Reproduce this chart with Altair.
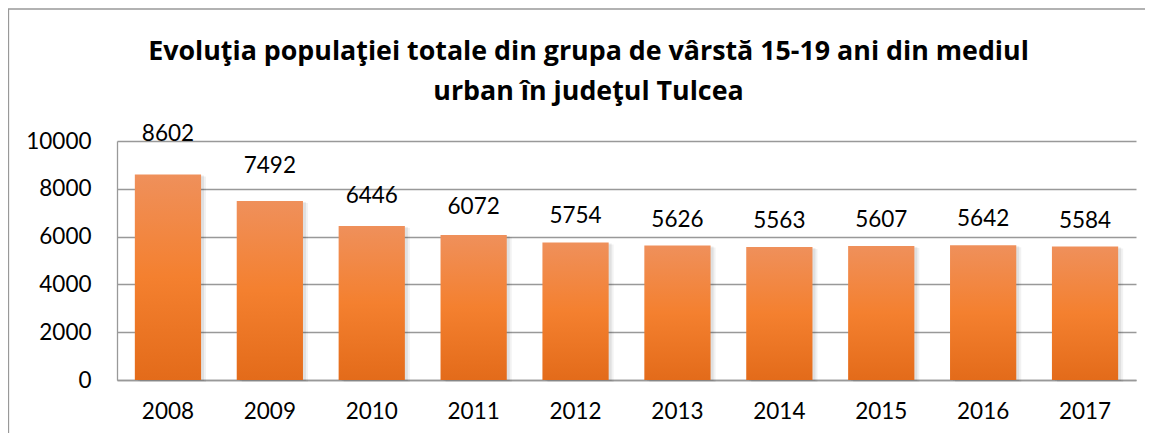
import altair as alt
import pandas as pd

years = ["2008", "2009", "2010", "2011", "2012", "2013", "2014", "2015", "2016", "2017"]
values = [8602, 7492, 6446, 6072, 5754, 5626, 5563, 5607, 5642, 5584]
title_lines = ["Evoluţia populaţiei totale din grupa de vârstă 15-19 ani din mediul",
               "urban în judeţul Tulcea"]

df = pd.DataFrame({"an": years, "v": values})

W, H = 1019, 239
FONT = "Lato"

x = alt.X("an:N", sort=years, title=None,
          scale=alt.Scale(paddingInner=0.35, paddingOuter=0.175),
          axis=alt.Axis(labelAngle=0, labelFont=FONT, labelFontSize=22.5, labelColor="#000",
                        labelPadding=20, ticks=False, domainColor="#999", domainWidth=1.3,
                        grid=False))
y = alt.Y("v:Q", title=None,
          scale=alt.Scale(domain=[0, 10000], nice=False),
          axis=alt.Axis(values=[0, 2000, 4000, 6000, 8000, 10000], format="d", labelFont=FONT,
                        labelFontSize=22.5, labelColor="#000", labelPadding=26, ticks=False,
                        domainColor="#999", domainWidth=1.3, gridColor="#999",
                        gridWidth=1.3))

base = alt.Chart(df)

shadow = base.mark_bar(color="#000", opacity=0.07, xOffset=3, yOffset=1).encode(x=x, y=y)
shadow2 = base.mark_bar(color="#000", opacity=0.05, xOffset=5, yOffset=2).encode(x=x, y=y)

bars = base.mark_bar(
    color=alt.Gradient(
        gradient="linear", x1=0, x2=0, y1=0, y2=1,
        stops=[alt.GradientStop(offset=0, color="#EF905B"),
               alt.GradientStop(offset=0.5, color="#F4802F"),
               alt.GradientStop(offset=1, color="#E36B1A")])
).encode(x=x, y=y)

labels = base.transform_calculate(ly="datum.v * 1.2").mark_text(
    font=FONT, fontSize=22.5, color="#000", baseline="middle", dy=1
).encode(x=alt.X("an:N", sort=years), y=alt.Y("ly:Q"), text=alt.Text("v:Q", format="d"))

border = alt.Chart(pd.DataFrame({"a": [0]})).mark_rect(
    fill=None, stroke="#999", strokeWidth=1.3
).encode(x=alt.value(-108.5), x2=alt.value(W + 100), y=alt.value(-132), y2=alt.value(H + 100))

chart = alt.layer(border, shadow2, shadow, bars, labels).properties(
    width=W, height=H,
    autosize=alt.AutoSizeParams(type="none"),
    padding={"left": 109, "top": 133, "right": 9, "bottom": 53},
    title=alt.TitleParams(text=title_lines, font="Open Sans", fontSize=26.8, fontWeight="bold",
                          color="#000", anchor="middle", dx=-38, dy=97, offset=0,
                          lineHeight=40),
).configure_view(stroke=None)

chart.save("out.html", embed_options={"renderer": "svg", "actions": False})
